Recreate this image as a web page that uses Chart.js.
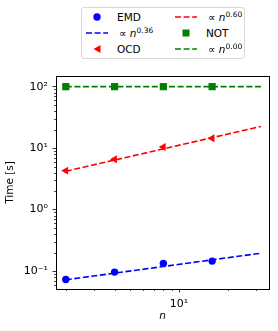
<!DOCTYPE html>
<html>
<head>
<meta charset="utf-8">
<script src="https://cdn.jsdelivr.net/npm/chart.js@4/dist/chart.umd.min.js"></script>
<style>
  html, body { margin: 0; padding: 0; background: #fff; }
  #wrap { position: relative; width: 278px; height: 331px; font-family: "DejaVu Sans", sans-serif; }
  #legend {
    position: absolute; left: 81px; top: 7px; width: 164px; height: 52px;
    border: 1px solid #d8d8d8; border-radius: 3px; background: #fff; box-sizing: border-box;
  }
  .item { position: absolute; height: 14px; font-size: 10.5px; line-height: 14px; color: #000; white-space: nowrap; }
  .item svg { position: absolute; left: 0; top: 0; }
  .item span.txt { position: absolute; top: 0; }
  sup { font-size: 7.5px; vertical-align: 0; position: relative; top: -4px; }
</style>
</head>
<body>
<div id="wrap">
  <canvas id="grafico" width="278" height="331"></canvas>
  <div id="legend"></div>
</div>
<script>
// datos
const nPuntos = [2, 4, 8, 16];
const tiempoEMD = [0.073, 0.096, 0.133, 0.145];
const tiempoOCD = [4.3, 6.6, 10.4, 14.5];
const tiempoNOT = [100, 100, 100, 100];

// rectas de ajuste (extremos)
const nAjuste = [2, 32];
const ajusteEMD = [0.072, 0.195];
const ajusteOCD = [4.2, 22.5];
const ajusteNOT = [100, 100];

const nombres = ['EMD', 'OCD', 'NOT'];
const exponentes = ['0.36', '0.60', '0.00'];
const colores = ['#0000ff', '#ff0000', '#008000'];

const xMayores = [10];
const xEtiquetas = ['10\u00B9'];
const yMayores = [0.1, 1, 10, 100];
const yEtiquetas = ['10\u207B\u00B9', '10\u2070', '10\u00B9', '10\u00B2'];

function aPuntos(xs, ys) {
    let datos = [];
    for (let i = 0; i < xs.length; i++) datos.push({x: xs[i], y: ys[i]});
    return datos;
}

function esMayor(v, lista) {
    return lista.findIndex(m => Math.abs(v - m) / m < 1e-6);
}

// marcas menores de un eje logaritmico
function marcasLog(scale) {
    let ticks = [];
    let k0 = Math.floor(Math.log10(scale.min));
    let k1 = Math.ceil(Math.log10(scale.max));
    for (let k = k0; k <= k1; k++) {
        for (let m = 1; m < 10; m++) {
            let v = parseFloat((m * Math.pow(10, k)).toPrecision(6));
            if (v >= scale.min && v <= scale.max) ticks.push({value: v});
        }
    }
    scale.ticks = ticks;
}

const estiloPunto = ['circle', 'triangle', 'rect'];
const radioPunto = [3.7, 4.6, 5.1];
const rotPunto = [0, -90, 0];
const series = [tiempoEMD, tiempoOCD, tiempoNOT];
const ajustes = [ajusteEMD, ajusteOCD, ajusteNOT];

let datasets = [];
for (let i = 0; i < 3; i++) {
    datasets.push({
        label: '\u221D n^' + exponentes[i],
        data: aPuntos(nAjuste, ajustes[i]),
        borderColor: colores[i],
        borderWidth: 1.6,
        borderDash: [6, 2.6],
        pointRadius: 0,
        showLine: true,
        fill: false,
        order: 2
    });
    datasets.push({
        label: nombres[i],
        data: aPuntos(nPuntos, series[i]),
        backgroundColor: colores[i],
        borderColor: colores[i],
        borderWidth: 0,
        pointStyle: estiloPunto[i],
        pointRadius: radioPunto[i],
        rotation: rotPunto[i],
        showLine: false,
        order: 1
    });
}

const marcoYMenores = {
    id: 'marco',
    afterDraw(chart) {
        const ctx = chart.ctx;
        const a = chart.chartArea;
        ctx.save();
        ctx.strokeStyle = '#000';
        ctx.lineWidth = 0.7;
        // marcas menores
        chart.scales.x.ticks.forEach(t => {
            if (esMayor(t.value, xMayores) < 0) {
                const px = Math.round(chart.scales.x.getPixelForValue(t.value)) + 0.5;
                ctx.beginPath(); ctx.moveTo(px, a.bottom); ctx.lineTo(px, a.bottom + 2); ctx.stroke();
            }
        });
        chart.scales.y.ticks.forEach(t => {
            if (esMayor(t.value, yMayores) < 0) {
                const py = Math.round(chart.scales.y.getPixelForValue(t.value)) + 0.5;
                ctx.beginPath(); ctx.moveTo(a.left, py); ctx.lineTo(a.left - 2, py); ctx.stroke();
            }
        });
        ctx.lineWidth = 1;
        ctx.strokeRect(Math.round(a.left) + 0.5, Math.round(a.top) + 0.5,
            Math.round(a.right - a.left), Math.round(a.bottom - a.top));
        ctx.restore();
    }
};

const fuenteTicks = {family: 'DejaVu Sans', size: 11};
const fuenteTitulo = {family: 'DejaVu Sans', size: 10.5};

new Chart(document.getElementById('grafico'), {
    type: 'scatter',
    data: {datasets: datasets},
    options: {
        responsive: false,
        animation: false,
        layout: {padding: {top: 76, right: 9, left: 0, bottom: 0}},
        plugins: {legend: {display: false}, tooltip: {enabled: false}},
        scales: {
            x: {
                type: 'logarithmic',
                min: 1.74, max: 35.9,
                afterBuildTicks: marcasLog,
                afterFit: s => { s.height = 42; },
                border: {display: false},
                grid: {
                    drawOnChartArea: false, tickLength: 3.5, tickWidth: 0.8,
                    tickColor: c => (c.tick && esMayor(c.tick.value, xMayores) >= 0) ? '#000' : 'transparent'
                },
                ticks: {
                    autoSkip: false, maxRotation: 0, color: '#000', font: fuenteTicks, padding: 5,
                    callback: v => { const i = esMayor(v, xMayores); return i >= 0 ? xEtiquetas[i] : ''; }
                },
                title: {display: true, text: 'n', color: '#000', padding: {top: 0, bottom: 8},
                    font: {family: 'DejaVu Sans', size: 10.5, style: 'italic'}}
            },
            y: {
                type: 'logarithmic',
                min: 0.051, max: 149,
                afterBuildTicks: marcasLog,
                afterFit: s => { s.width = 56; },
                border: {display: false},
                grid: {
                    drawOnChartArea: false, tickLength: 3.5, tickWidth: 0.8,
                    tickColor: c => (c.tick && esMayor(c.tick.value, yMayores) >= 0) ? '#000' : 'transparent'
                },
                ticks: {
                    autoSkip: false, color: '#000', font: fuenteTicks, padding: 4.5,
                    callback: v => { const i = esMayor(v, yMayores); return i >= 0 ? yEtiquetas[i] : ''; }
                },
                title: {display: true, text: 'Time [s]', color: '#000', padding: {top: 4, bottom: 0},
                    font: fuenteTitulo}
            }
        }
    },
    plugins: [marcoYMenores]
});

// leyenda en dos columnas, como la original
function icono(tipo, color) {
    let s = '<svg width="26" height="14">';
    if (tipo === 'linea') {
        s += '<line x1="3" y1="7" x2="25" y2="7" stroke="' + color + '" stroke-width="1.6" stroke-dasharray="6 2.6"/>';
    } else if (tipo === 'circle') {
        s += '<circle cx="14" cy="7" r="3.7" fill="' + color + '"/>';
    } else if (tipo === 'triangle') {
        s += '<polygon points="10.5,7 17.5,3 17.5,11" fill="' + color + '"/>';
    } else {
        s += '<rect x="10.5" y="3.5" width="7" height="7" fill="' + color + '"/>';
    }
    return s + '</svg>';
}

const leyenda = document.getElementById('legend');
let entradas = [];
for (let i = 0; i < 3; i++) {
    entradas.push({tipo: estiloPunto[i], color: colores[i], html: nombres[i]});
    entradas.push({tipo: 'linea', color: colores[i],
        html: '\u221D <i>n</i><sup>' + exponentes[i] + '</sup>'});
}
entradas.forEach((e, j) => {
    const col = j < 3 ? 0 : 1;
    const fila = j % 3;
    const d = document.createElement('div');
    d.className = 'item';
    d.style.left = (col === 0 ? 1 : 90) + 'px';
    d.style.top = (2 + fila * 16) + 'px';
    const dx = e.tipo === 'linea' ? 36 : 34;
    d.innerHTML = icono(e.tipo, e.color) + '<span class="txt" style="left:' + dx + 'px">' + e.html + '</span>';
    leyenda.appendChild(d);
});
</script>
</body>
</html>
